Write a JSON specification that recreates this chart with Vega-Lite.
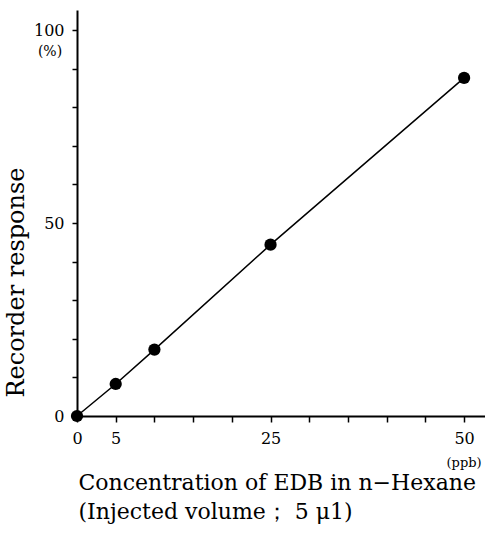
{
  "$schema": "https://vega.github.io/schema/vega-lite/v6.json",
  "autosize": "none",
  "width": 408,
  "height": 406,
  "padding": {"left": 77, "top": 10, "right": 0, "bottom": 118},
  "background": "white",
  "config": {
    "view": {"stroke": null},
    "font": "DejaVu Serif",
    "axis": {
      "grid": false,
      "domainColor": "black",
      "domainWidth": 2,
      "tickColor": "black",
      "tickWidth": 1.5,
      "tickSize": 6,
      "labelColor": "black",
      "titleColor": "black",
      "labelFont": "DejaVu Serif",
      "titleFont": "DejaVu Serif",
      "labelFontSize": 16,
      "titleFontWeight": "normal"
    }
  },
  "datasets": {
    "pts": [
      {"conc": 0, "resp": 0},
      {"conc": 5, "resp": 8.3},
      {"conc": 10, "resp": 17.2},
      {"conc": 25, "resp": 44.4},
      {"conc": 50, "resp": 87.6}
    ],
    "notes": [
      {"conc": 0, "resp": 94.3, "label": "(%)"}
    ],
    "units": [
      {"conc": 50, "resp": 0, "label": "(ppb)"}
    ]
  },
  "layer": [
    {
      "data": {"name": "pts"},
      "mark": {"type": "line", "color": "black", "strokeWidth": 1.5},
      "encoding": {
        "x": {
          "field": "conc", "type": "quantitative",
          "scale": {"domain": [0, 52.7], "nice": false, "zero": false},
          "axis": {
            "values": [0, 5, 10, 15, 20, 25, 30, 35, 40, 45, 50],
            "labelExpr": "datum.value == 0 || datum.value == 5 || datum.value == 25 || datum.value == 50 ? datum.label : ''",
            "labelPadding": 8,
            "title": ["Concentration of EDB in n\u2212Hexane", "(Injected volume\uff1b 5 \u03bc1)"],
            "titleFontSize": 22,
            "titleLineHeight": 29,
            "titlePadding": 26,
            "titleAnchor": "start",
            "titleAlign": "left",
            "titleX": 1,
            "labelFlush": false
          }
        },
        "y": {
          "field": "resp", "type": "quantitative",
          "scale": {"domain": [0, 105.2], "nice": false},
          "axis": {
            "values": [0, 10, 20, 30, 40, 50, 60, 70, 80, 90, 100],
            "labelExpr": "datum.value == 0 || datum.value == 50 || datum.value == 100 ? datum.label : ''",
            "labelPadding": 8,
            "tickSize": 5,
            "title": "Recorder response",
            "titleFontSize": 24,
            "titlePadding": 5,
            "titleY": 272
          }
        }
      }
    },
    {
      "data": {"name": "pts"},
      "mark": {"type": "point", "filled": true, "color": "black", "opacity": 1, "size": 150},
      "encoding": {
        "x": {"field": "conc", "type": "quantitative"},
        "y": {"field": "resp", "type": "quantitative"}
      }
    },
    {
      "data": {"name": "notes"},
      "mark": {"type": "text", "dx": -27, "fontSize": 14, "color": "black", "font": "DejaVu Serif", "clip": false},
      "encoding": {
        "x": {"field": "conc", "type": "quantitative"},
        "y": {"field": "resp", "type": "quantitative"},
        "text": {"field": "label"}
      }
    },
    {
      "data": {"name": "units"},
      "mark": {"type": "text", "dy": 47, "fontSize": 13, "color": "black", "font": "DejaVu Serif", "clip": false},
      "encoding": {
        "x": {"field": "conc", "type": "quantitative"},
        "y": {"field": "resp", "type": "quantitative"},
        "text": {"field": "label"}
      }
    }
  ]
}
